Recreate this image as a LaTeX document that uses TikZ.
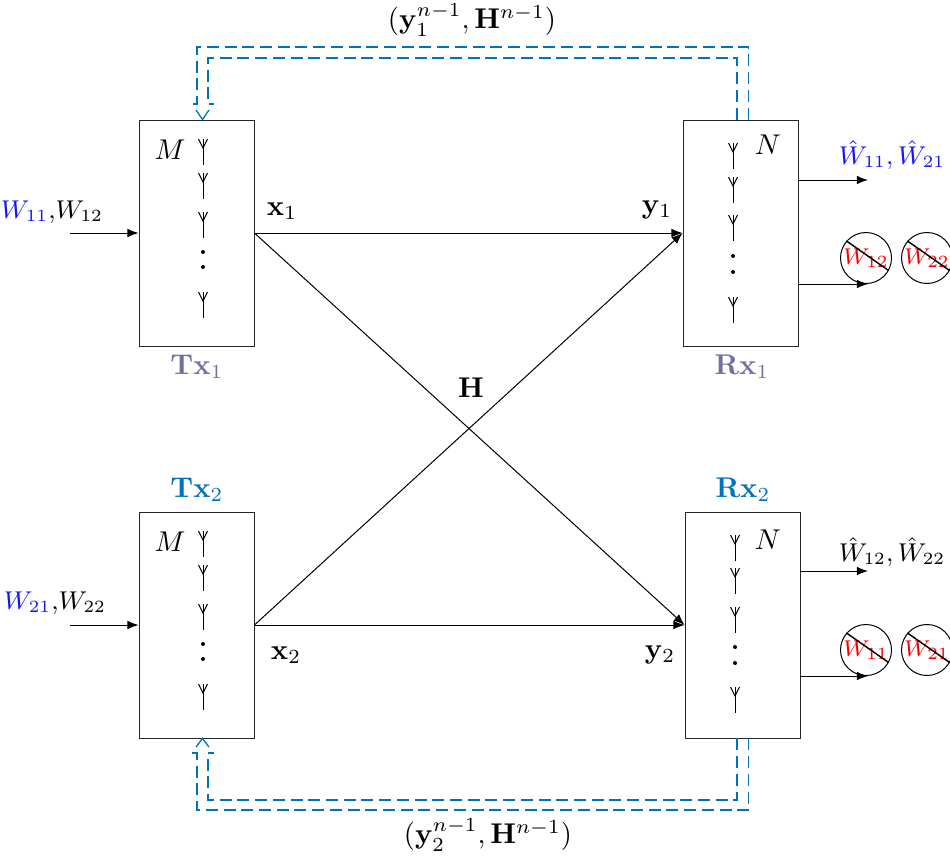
\documentclass[tikz,border=0pt]{standalone}
\usetikzlibrary{arrows.meta,calc}
\definecolor{fbblue}{RGB}{0,114,189}
\definecolor{txgray}{RGB}{112,112,160}
\definecolor{wblue}{RGB}{20,20,255}
\begin{document}
\begin{tikzpicture}[x=0.35pt,y=-0.35pt,
  box/.style={draw=black!85,line width=0.3pt,minimum width=40.25pt,minimum height=79.1pt,inner sep=0pt},
  sig/.style={line width=0.35pt,-{Latex[length=3.9pt,width=3pt]}},
  fb/.style={fbblue,line width=0.45pt,dash pattern=on 4.2pt off 2pt},
  fbtip/.style={fbblue,line width=0.45pt},
  lbl/.style={inner sep=0pt},
  nolbl/.style={draw,circle,line width=0.35pt,minimum size=17.85pt,inner sep=0pt,text=red,font=\footnotesize},
  antenna/.pic={\draw[line width=0.35pt] (0,0) -- (0,26); \draw[line width=0.35pt] (-4.5,0) -- (0,9) -- (4.5,0);}
]
\useasboundingbox (0,0) rectangle (950,860);

% boxes
\node[box] (tx1) at (196.5,233) {};
\node[box] (rx1) at (740.5,233) {};
\node[box] (tx2) at (196.5,625) {};
\node[box] (rx2) at (742.5,625) {};

% antennas
\foreach \y in {139,173,212,292} \pic at (203,\y) {antenna};
\foreach \y in {252,267} \fill (203,\y) circle (2);
\foreach \y in {143,177,215,297} \pic at (733,\y) {antenna};
\foreach \y in {256,272} \fill (733,\y) circle (2);
\foreach \y in {531,565,604,684} \pic at (203,\y) {antenna};
\foreach \y in {644,659} \fill (203,\y) circle (2);
\foreach \y in {535,568,607,687} \pic at (735,\y) {antenna};
\foreach \y in {647,663} \fill (735,\y) circle (2);

% M / N labels
\node[lbl] (m1) at (170,150) {$M$};
\node[lbl] (n1) at (768,145) {$N$};
\node[lbl] (m2) at (170,542) {$M$};
\node[lbl] (n2) at (768,540) {$N$};

% Tx/Rx labels
\node[lbl,text=txgray] (ltx1) at (197,367) {$\mathbf{Tx}_1$};
\node[lbl,text=txgray] (lrx1) at (742,367) {$\mathbf{Rx}_1$};
\node[lbl,text=fbblue] (ltx2) at (197,490) {$\mathbf{Tx}_2$};
\node[lbl,text=fbblue] (lrx2) at (743,490) {$\mathbf{Rx}_2$};

% inputs
\coordinate (in1) at (70,233);
\coordinate (in2) at (70,625);
\draw[sig] (in1) -- (tx1.west);
\draw[sig] (in2) -- (tx2.west);
\node[lbl,font=\small] (lin1) at (52,212) {$\textcolor{wblue}{W_{11}}{,}W_{12}$};
\node[lbl,font=\small] (lin2) at (55,603) {$\textcolor{wblue}{W_{21}}{,}W_{22}$};

% channel
\draw[sig] (tx1.east) -- (rx1.west);
\draw[sig] (tx1.east) -- (rx2.west);
\draw[sig] (tx2.east) -- (rx1.west);
\draw[sig] (tx2.east) -- (rx2.west);
\node[lbl] (lx1) at (282,211) {$\mathbf{x}_1$};
\node[lbl] (ly1) at (657,210) {$\mathbf{y}_1$};
\node[lbl] (lx2) at (286,655) {$\mathbf{x}_2$};
\node[lbl] (ly2) at (660,655) {$\mathbf{y}_2$};
\node[lbl] (lh) at (471,388) {$\mathbf{H}$};

% outputs Rx1
\coordinate (o11) at (868,180);
\coordinate (o12) at (868,284);
\draw[sig] (rx1.east |- o11) -- (o11);
\draw[sig] (rx1.east |- o12) -- (o12);
\node[lbl,font=\small,text=wblue] (lo1) at (892,155) {$\hat{W}_{11},\hat{W}_{21}$};
\node[nolbl] (c1) at (866,258) {$W_{12}$};
\node[nolbl] (c2) at (927,258) {$W_{22}$};
\draw[line width=0.5pt] (c1.139) -- (c1.-29);
\draw[line width=0.5pt] (c2.139) -- (c2.-29);

% outputs Rx2
\coordinate (o21) at (868,571);
\coordinate (o22) at (868,676);
\draw[sig] (rx2.east |- o21) -- (o21);
\draw[sig] (rx2.east |- o22) -- (o22);
\node[lbl,font=\small] (lo2) at (892,552) {$\hat{W}_{12},\hat{W}_{22}$};
\node[nolbl] (c3) at (866,650) {$W_{11}$};
\node[nolbl] (c4) at (927,650) {$W_{21}$};
\draw[line width=0.5pt] (c3.139) -- (c3.-29);
\draw[line width=0.5pt] (c4.139) -- (c4.-29);

% feedback top
\draw[fb] ($(rx1.north)+(8,0)$) |- (197,47) -- (197,104) -- (191,104);
\draw[fb] ($(rx1.north)+(-3.5,0)$) |- (208,58) -- (208,104) -- (214,104);
\draw[fbtip] (196,110) -- ($(tx1.north)+(6,0)$) -- (209,110);
\node[lbl] (lfb1) at (472,20) {$(\mathbf{y}_1^{n-1},\mathbf{H}^{n-1})$};

% feedback bottom
\draw[fb] ($(rx2.south)+(6,0)$) |- (197,810) -- (197,753) -- (191,753);
\draw[fb] ($(rx2.south)+(-5.5,0)$) |- (208,800) -- (208,753) -- (214,753);
\draw[fbtip] (196,747) -- ($(tx2.south)+(6,0)$) -- (209,747);
\node[lbl] (lfb2) at (488,835) {$(\mathbf{y}_2^{n-1},\mathbf{H}^{n-1})$};
\end{tikzpicture}
\end{document}
